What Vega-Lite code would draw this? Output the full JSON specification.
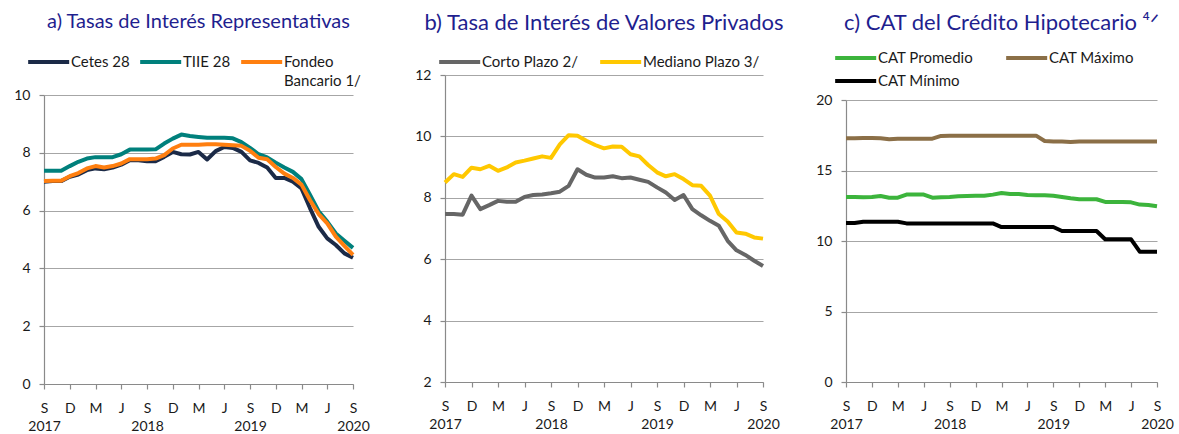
{
  "$schema": "https://vega.github.io/schema/vega-lite/v6.json",
  "background": "white",
  "padding": {"left": 0, "top": 11, "right": 0, "bottom": 0},
  "spacing": 0,
  "datasets": {
    "a": [
      {"m":"2017-09","Cetes 28":7.00,"TIIE 28":7.38,"Fondeo Bancario 1/":7.02},
      {"m":"2017-10","Cetes 28":7.02,"TIIE 28":7.38,"Fondeo Bancario 1/":7.03},
      {"m":"2017-11","Cetes 28":7.02,"TIIE 28":7.38,"Fondeo Bancario 1/":7.03},
      {"m":"2017-12","Cetes 28":7.17,"TIIE 28":7.54,"Fondeo Bancario 1/":7.19},
      {"m":"2018-01","Cetes 28":7.25,"TIIE 28":7.69,"Fondeo Bancario 1/":7.30},
      {"m":"2018-02","Cetes 28":7.40,"TIIE 28":7.80,"Fondeo Bancario 1/":7.46},
      {"m":"2018-03","Cetes 28":7.46,"TIIE 28":7.85,"Fondeo Bancario 1/":7.54},
      {"m":"2018-04","Cetes 28":7.43,"TIIE 28":7.85,"Fondeo Bancario 1/":7.49},
      {"m":"2018-05","Cetes 28":7.49,"TIIE 28":7.85,"Fondeo Bancario 1/":7.54},
      {"m":"2018-06","Cetes 28":7.59,"TIIE 28":7.95,"Fondeo Bancario 1/":7.63},
      {"m":"2018-07","Cetes 28":7.74,"TIIE 28":8.11,"Fondeo Bancario 1/":7.78},
      {"m":"2018-08","Cetes 28":7.74,"TIIE 28":8.11,"Fondeo Bancario 1/":7.78},
      {"m":"2018-09","Cetes 28":7.71,"TIIE 28":8.11,"Fondeo Bancario 1/":7.78},
      {"m":"2018-10","Cetes 28":7.71,"TIIE 28":8.12,"Fondeo Bancario 1/":7.80},
      {"m":"2018-11","Cetes 28":7.86,"TIIE 28":8.32,"Fondeo Bancario 1/":7.92},
      {"m":"2018-12","Cetes 28":8.03,"TIIE 28":8.49,"Fondeo Bancario 1/":8.15},
      {"m":"2019-01","Cetes 28":7.95,"TIIE 28":8.63,"Fondeo Bancario 1/":8.28},
      {"m":"2019-02","Cetes 28":7.94,"TIIE 28":8.58,"Fondeo Bancario 1/":8.28},
      {"m":"2019-03","Cetes 28":8.03,"TIIE 28":8.55,"Fondeo Bancario 1/":8.28},
      {"m":"2019-04","Cetes 28":7.77,"TIIE 28":8.52,"Fondeo Bancario 1/":8.30},
      {"m":"2019-05","Cetes 28":8.06,"TIIE 28":8.52,"Fondeo Bancario 1/":8.30},
      {"m":"2019-06","Cetes 28":8.20,"TIIE 28":8.52,"Fondeo Bancario 1/":8.28},
      {"m":"2019-07","Cetes 28":8.17,"TIIE 28":8.50,"Fondeo Bancario 1/":8.26},
      {"m":"2019-08","Cetes 28":8.03,"TIIE 28":8.37,"Fondeo Bancario 1/":8.24},
      {"m":"2019-09","Cetes 28":7.74,"TIIE 28":8.17,"Fondeo Bancario 1/":8.07},
      {"m":"2019-10","Cetes 28":7.65,"TIIE 28":7.95,"Fondeo Bancario 1/":7.83},
      {"m":"2019-11","Cetes 28":7.49,"TIIE 28":7.84,"Fondeo Bancario 1/":7.78},
      {"m":"2019-12","Cetes 28":7.13,"TIIE 28":7.66,"Fondeo Bancario 1/":7.51},
      {"m":"2020-01","Cetes 28":7.13,"TIIE 28":7.49,"Fondeo Bancario 1/":7.28},
      {"m":"2020-02","Cetes 28":7.00,"TIIE 28":7.34,"Fondeo Bancario 1/":7.13},
      {"m":"2020-03","Cetes 28":6.77,"TIIE 28":7.09,"Fondeo Bancario 1/":6.90},
      {"m":"2020-04","Cetes 28":6.08,"TIIE 28":6.54,"Fondeo Bancario 1/":6.36},
      {"m":"2020-05","Cetes 28":5.44,"TIIE 28":5.98,"Fondeo Bancario 1/":5.88},
      {"m":"2020-06","Cetes 28":5.04,"TIIE 28":5.62,"Fondeo Bancario 1/":5.56},
      {"m":"2020-07","Cetes 28":4.81,"TIIE 28":5.21,"Fondeo Bancario 1/":5.10},
      {"m":"2020-08","Cetes 28":4.52,"TIIE 28":4.96,"Fondeo Bancario 1/":4.78},
      {"m":"2020-09","Cetes 28":4.37,"TIIE 28":4.71,"Fondeo Bancario 1/":4.47}
    ],
    "b": [
      {"m":"2017-09","Corto Plazo 2/":7.47,"Mediano Plazo 3/":8.50},
      {"m":"2017-10","Corto Plazo 2/":7.47,"Mediano Plazo 3/":8.77},
      {"m":"2017-11","Corto Plazo 2/":7.45,"Mediano Plazo 3/":8.68},
      {"m":"2017-12","Corto Plazo 2/":8.07,"Mediano Plazo 3/":8.98},
      {"m":"2018-01","Corto Plazo 2/":7.63,"Mediano Plazo 3/":8.93},
      {"m":"2018-02","Corto Plazo 2/":7.76,"Mediano Plazo 3/":9.04},
      {"m":"2018-03","Corto Plazo 2/":7.90,"Mediano Plazo 3/":8.88},
      {"m":"2018-04","Corto Plazo 2/":7.87,"Mediano Plazo 3/":8.99},
      {"m":"2018-05","Corto Plazo 2/":7.87,"Mediano Plazo 3/":9.15},
      {"m":"2018-06","Corto Plazo 2/":8.03,"Mediano Plazo 3/":9.21},
      {"m":"2018-07","Corto Plazo 2/":8.09,"Mediano Plazo 3/":9.28},
      {"m":"2018-08","Corto Plazo 2/":8.11,"Mediano Plazo 3/":9.35},
      {"m":"2018-09","Corto Plazo 2/":8.15,"Mediano Plazo 3/":9.30},
      {"m":"2018-10","Corto Plazo 2/":8.20,"Mediano Plazo 3/":9.74},
      {"m":"2018-11","Corto Plazo 2/":8.39,"Mediano Plazo 3/":10.04},
      {"m":"2018-12","Corto Plazo 2/":8.93,"Mediano Plazo 3/":10.02},
      {"m":"2019-01","Corto Plazo 2/":8.75,"Mediano Plazo 3/":9.86},
      {"m":"2019-02","Corto Plazo 2/":8.66,"Mediano Plazo 3/":9.72},
      {"m":"2019-03","Corto Plazo 2/":8.66,"Mediano Plazo 3/":9.61},
      {"m":"2019-04","Corto Plazo 2/":8.70,"Mediano Plazo 3/":9.67},
      {"m":"2019-05","Corto Plazo 2/":8.64,"Mediano Plazo 3/":9.66},
      {"m":"2019-06","Corto Plazo 2/":8.66,"Mediano Plazo 3/":9.42},
      {"m":"2019-07","Corto Plazo 2/":8.59,"Mediano Plazo 3/":9.35},
      {"m":"2019-08","Corto Plazo 2/":8.52,"Mediano Plazo 3/":9.07},
      {"m":"2019-09","Corto Plazo 2/":8.34,"Mediano Plazo 3/":8.83},
      {"m":"2019-10","Corto Plazo 2/":8.17,"Mediano Plazo 3/":8.70},
      {"m":"2019-11","Corto Plazo 2/":7.93,"Mediano Plazo 3/":8.77},
      {"m":"2019-12","Corto Plazo 2/":8.09,"Mediano Plazo 3/":8.61},
      {"m":"2020-01","Corto Plazo 2/":7.63,"Mediano Plazo 3/":8.41},
      {"m":"2020-02","Corto Plazo 2/":7.43,"Mediano Plazo 3/":8.39},
      {"m":"2020-03","Corto Plazo 2/":7.25,"Mediano Plazo 3/":8.07},
      {"m":"2020-04","Corto Plazo 2/":7.09,"Mediano Plazo 3/":7.47},
      {"m":"2020-05","Corto Plazo 2/":6.60,"Mediano Plazo 3/":7.23},
      {"m":"2020-06","Corto Plazo 2/":6.29,"Mediano Plazo 3/":6.87},
      {"m":"2020-07","Corto Plazo 2/":6.14,"Mediano Plazo 3/":6.83},
      {"m":"2020-08","Corto Plazo 2/":5.95,"Mediano Plazo 3/":6.71},
      {"m":"2020-09","Corto Plazo 2/":5.78,"Mediano Plazo 3/":6.67}
    ],
    "c": [
      {"m":"2017-09","CAT Promedio":13.12,"CAT Máximo":17.28,"CAT Mínimo":11.28},
      {"m":"2017-10","CAT Promedio":13.12,"CAT Máximo":17.28,"CAT Mínimo":11.28},
      {"m":"2017-11","CAT Promedio":13.10,"CAT Máximo":17.30,"CAT Mínimo":11.37},
      {"m":"2017-12","CAT Promedio":13.12,"CAT Máximo":17.30,"CAT Mínimo":11.37},
      {"m":"2018-01","CAT Promedio":13.19,"CAT Máximo":17.28,"CAT Mínimo":11.37},
      {"m":"2018-02","CAT Promedio":13.07,"CAT Máximo":17.21,"CAT Mínimo":11.37},
      {"m":"2018-03","CAT Promedio":13.07,"CAT Máximo":17.26,"CAT Mínimo":11.37},
      {"m":"2018-04","CAT Promedio":13.29,"CAT Máximo":17.26,"CAT Mínimo":11.25},
      {"m":"2018-05","CAT Promedio":13.29,"CAT Máximo":17.26,"CAT Mínimo":11.25},
      {"m":"2018-06","CAT Promedio":13.29,"CAT Máximo":17.26,"CAT Mínimo":11.25},
      {"m":"2018-07","CAT Promedio":13.07,"CAT Máximo":17.26,"CAT Mínimo":11.25},
      {"m":"2018-08","CAT Promedio":13.10,"CAT Máximo":17.45,"CAT Mínimo":11.25},
      {"m":"2018-09","CAT Promedio":13.12,"CAT Máximo":17.47,"CAT Mínimo":11.25},
      {"m":"2018-10","CAT Promedio":13.17,"CAT Máximo":17.47,"CAT Mínimo":11.25},
      {"m":"2018-11","CAT Promedio":13.19,"CAT Máximo":17.47,"CAT Mínimo":11.25},
      {"m":"2018-12","CAT Promedio":13.21,"CAT Máximo":17.47,"CAT Mínimo":11.25},
      {"m":"2019-01","CAT Promedio":13.21,"CAT Máximo":17.47,"CAT Mínimo":11.25},
      {"m":"2019-02","CAT Promedio":13.29,"CAT Máximo":17.47,"CAT Mínimo":11.25},
      {"m":"2019-03","CAT Promedio":13.40,"CAT Máximo":17.47,"CAT Mínimo":10.99},
      {"m":"2019-04","CAT Promedio":13.33,"CAT Máximo":17.47,"CAT Mínimo":10.99},
      {"m":"2019-05","CAT Promedio":13.33,"CAT Máximo":17.47,"CAT Mínimo":10.99},
      {"m":"2019-06","CAT Promedio":13.26,"CAT Máximo":17.47,"CAT Mínimo":10.99},
      {"m":"2019-07","CAT Promedio":13.24,"CAT Máximo":17.47,"CAT Mínimo":10.99},
      {"m":"2019-08","CAT Promedio":13.24,"CAT Máximo":17.09,"CAT Mínimo":10.99},
      {"m":"2019-09","CAT Promedio":13.21,"CAT Máximo":17.05,"CAT Mínimo":10.99},
      {"m":"2019-10","CAT Promedio":13.12,"CAT Máximo":17.05,"CAT Mínimo":10.71},
      {"m":"2019-11","CAT Promedio":13.03,"CAT Máximo":17.03,"CAT Mínimo":10.71},
      {"m":"2019-12","CAT Promedio":12.96,"CAT Máximo":17.05,"CAT Mínimo":10.71},
      {"m":"2020-01","CAT Promedio":12.96,"CAT Máximo":17.05,"CAT Mínimo":10.71},
      {"m":"2020-02","CAT Promedio":12.96,"CAT Máximo":17.05,"CAT Mínimo":10.71},
      {"m":"2020-03","CAT Promedio":12.77,"CAT Máximo":17.05,"CAT Mínimo":10.12},
      {"m":"2020-04","CAT Promedio":12.77,"CAT Máximo":17.05,"CAT Mínimo":10.12},
      {"m":"2020-05","CAT Promedio":12.77,"CAT Máximo":17.05,"CAT Mínimo":10.12},
      {"m":"2020-06","CAT Promedio":12.74,"CAT Máximo":17.05,"CAT Mínimo":10.12},
      {"m":"2020-07","CAT Promedio":12.58,"CAT Máximo":17.05,"CAT Mínimo":9.24},
      {"m":"2020-08","CAT Promedio":12.55,"CAT Máximo":17.05,"CAT Mínimo":9.24},
      {"m":"2020-09","CAT Promedio":12.46,"CAT Máximo":17.05,"CAT Mínimo":9.24}
    ],
    "empty": []
  },
  "hconcat": [
    {"spacing": 0,
     "resolve": {"scale": {"color": "independent"}, "legend": {"color": "independent"}},
     "vconcat": [
      {"width": 1, "height": 1, "data": {"name": "empty"}, "mark": "point", "encoding": {}},
      {
      "width": 309,
      "height": 289,
      "title": {"text": "a) Tasas de Interés Representativas", "offset": 21},
      "data": {"name": "a"},
      "transform": [{"fold": ["Cetes 28", "TIIE 28", "Fondeo Bancario 1/"], "as": ["s", "v"]}],
      "mark": {"type": "line", "strokeWidth": 4, "strokeJoin": "round"},
      "encoding": {
        "x": {"field": "m", "type": "ordinal", "scale": {"type": "point", "padding": 0},
          "axis": {"values": ["2017-09","2017-12","2018-03","2018-06","2018-09","2018-12","2019-03","2019-06","2019-09","2019-12","2020-03","2020-06","2020-09"],
            "labelExpr": "slice(datum.value,5,7)=='09' ? ['S', slice(datum.value,0,4)] : slice(datum.value,5,7)=='12' ? 'D' : slice(datum.value,5,7)=='03' ? 'M' : 'J'"}},
        "y": {"field": "v", "type": "quantitative", "scale": {"domain": [0, 10], "nice": false, "zero": false},
          "axis": {"values": [0, 2, 4, 6, 8, 10], "minExtent": 44}},
        "color": {"field": "s", "type": "nominal",
          "scale": {"domain": ["Cetes 28", "TIIE 28", "Fondeo Bancario 1/"], "range": ["#1b2a47", "#00807c", "#ff7f10"]},
          "legend": {"orient": "none", "legendX": -18, "legendY": -42, "columns": 3, "direction": "horizontal", "columnPadding": 2,
            "labelExpr": "datum.label == 'Fondeo Bancario 1/' ? ['Fondeo', 'Bancario 1/'] : [datum.label, ' ']",
            "encode": {"labels": {"update": {"lineHeight": {"value": 19}}}}}}
      }
    }]},
    {"spacing": 0,
     "resolve": {"scale": {"color": "independent"}, "legend": {"color": "independent"}},
     "vconcat": [
      {"width": 1, "height": 1, "data": {"name": "empty"}, "mark": "point", "encoding": {}},
      {
      "width": 318,
      "height": 307,
      "title": {"text": "b) Tasa de Interés de Valores Privados", "offset": 18, "fontSize": 22},
      "data": {"name": "b"},
      "transform": [{"fold": ["Corto Plazo 2/", "Mediano Plazo 3/"], "as": ["s", "v"]}],
      "mark": {"type": "line", "strokeWidth": 4, "strokeJoin": "round"},
      "encoding": {
        "x": {"field": "m", "type": "ordinal", "scale": {"type": "point", "padding": 0},
          "axis": {"values": ["2017-09","2017-12","2018-03","2018-06","2018-09","2018-12","2019-03","2019-06","2019-09","2019-12","2020-03","2020-06","2020-09"],
            "labelExpr": "slice(datum.value,5,7)=='09' ? ['S', slice(datum.value,0,4)] : slice(datum.value,5,7)=='12' ? 'D' : slice(datum.value,5,7)=='03' ? 'M' : 'J'"}},
        "y": {"field": "v", "type": "quantitative", "scale": {"domain": [2, 12], "nice": false, "zero": false},
          "axis": {"values": [2, 4, 6, 8, 10, 12], "minExtent": 75}},
        "color": {"field": "s", "type": "nominal",
          "scale": {"domain": ["Corto Plazo 2/", "Mediano Plazo 3/"], "range": ["#666666", "#ffc800"]},
          "legend": {"orient": "none", "legendX": -8, "legendY": -22, "columns": 2, "direction": "horizontal", "columnPadding": 14}}
      }
    }]},
    {"spacing": 0,
     "resolve": {"scale": {"color": "independent"}, "legend": {"color": "independent"}},
     "vconcat": [
      {"width": 1, "height": 1, "data": {"name": "empty"}, "mark": "point", "encoding": {}},
      {
      "width": 311,
      "height": 282,
      "title": {"text": "c) CAT del Crédito Hipotecario ⁴ᐟ", "offset": 14, "fontSize": 22},
      "data": {"name": "c"},
      "transform": [{"fold": ["CAT Promedio", "CAT Máximo", "CAT Mínimo"], "as": ["s", "v"]}],
      "mark": {"type": "line", "strokeWidth": 4, "strokeJoin": "round"},
      "encoding": {
        "x": {"field": "m", "type": "ordinal", "scale": {"type": "point", "padding": 0},
          "axis": {"values": ["2017-09","2017-12","2018-03","2018-06","2018-09","2018-12","2019-03","2019-06","2019-09","2019-12","2020-03","2020-06","2020-09"],
            "labelExpr": "slice(datum.value,5,7)=='09' ? ['S', slice(datum.value,0,4)] : slice(datum.value,5,7)=='12' ? 'D' : slice(datum.value,5,7)=='03' ? 'M' : 'J'"}},
        "y": {"field": "v", "type": "quantitative", "scale": {"domain": [0, 20], "nice": false, "zero": false},
          "axis": {"values": [0, 5, 10, 15, 20], "minExtent": 61}},
        "color": {"field": "s", "type": "nominal",
          "scale": {"domain": ["CAT Promedio", "CAT Máximo", "CAT Mínimo"], "range": ["#3cb43c", "#8b6f47", "#000000"]},
          "legend": {"orient": "none", "legendX": -13, "legendY": -51, "columns": 2, "direction": "horizontal", "columnPadding": 24, "rowPadding": 6}}
      }
    }]}
  ],
  "resolve": {"scale": {"color": "independent", "y": "independent", "x": "independent"}, "legend": {"color": "independent"}},
  "config": {
    "font": "Lato",
    "view": {"stroke": null},
    "title": {"font": "Lato", "fontSize": 20, "fontWeight": "normal", "color": "#1f1f8f", "anchor": "middle", "frame": "group"},
    "axis": {"labelFont": "Lato", "labelFontSize": 14, "labelColor": "#1a1a1a", "domainColor": "#8a8a8a", "tickColor": "#8a8a8a", "tickSize": 5, "title": null, "domainWidth": 1.2, "tickWidth": 1.2},
    "axisY": {"grid": true, "gridColor": "#a6a6a6", "gridWidth": 1.2, "labelPadding": 9},
    "axisX": {"grid": false, "labelAngle": 0, "labelPadding": 12, "labelBaseline": "top", "labelLineHeight": 18, "labelOverlap": false, "labelBound": false},
    "legend": {"title": null, "symbolType": "M-1,0H5", "symbolSize": 187, "symbolStrokeWidth": 4, "labelFont": "Lato", "labelFontSize": 15, "labelColor": "#1a1a1a", "labelOffset": 27, "labelBaseline": "middle", "padding": 0, "labelLimit": 300}
  }
}
